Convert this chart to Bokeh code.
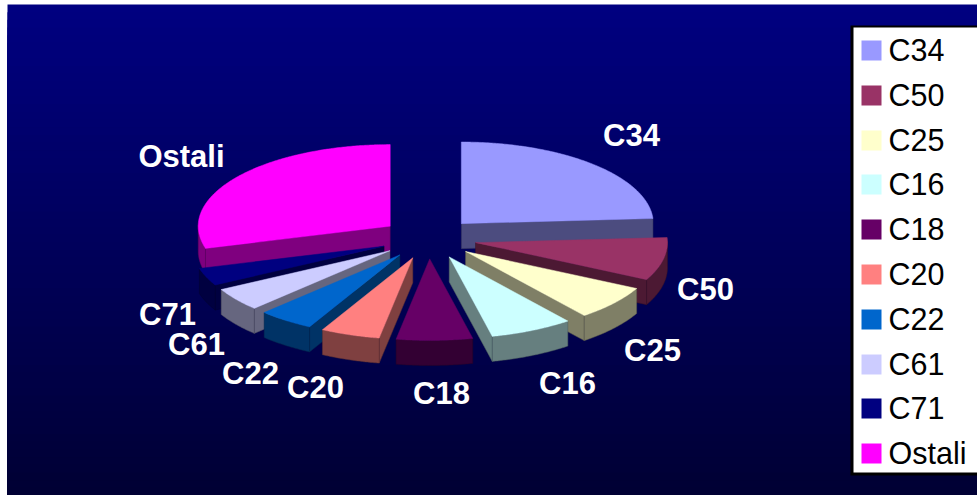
import numpy as np
from bokeh.plotting import figure
from bokeh.models import Range1d
from bokeh.core.properties import value
from bokeh.embed import file_html
from bokeh.resources import INLINE

# ---- data ----
categories = ["C34", "C50", "C25", "C16", "C18", "C20", "C22", "C61", "C71", "Ostali"]
shares = [24.0, 8.5, 6.9, 7.0, 6.4, 5.0, 4.7, 4.6, 3.5, 29.4]
colors = ["#9999ff", "#993366", "#ffffcc", "#ccffff", "#660066",
          "#ff8080", "#0066cc", "#ccccff", "#000080", "#ff00ff"]

# ---- layout ----
CX, CY = 428, 238       # pie centre
R, TILT = 192, 0.425    # radius and vertical squash
EXPLODE = 48            # slice explosion
DEPTH = 25              # thickness
DRAW_ORDER = [0, 9, 1, 8, 2, 7, 3, 6, 4, 5]
LABEL_XY = [(631, 135), (705, 289), (652, 350), (567, 383), (441, 393),
            (315, 387), (250, 373), (196, 344), (167, 314), (181, 156)]
LEGEND_Y = [49, 94, 139, 183, 228, 273, 318, 363, 407, 452]
SWATCH_Y = [50, 95, 140, 184, 229, 274, 319, 364, 408, 453]

p = figure(width=977, height=495, output_backend="svg", toolbar_location=None,
           x_range=Range1d(0, 977), y_range=Range1d(495, 0),
           min_border=0, outline_line_color=None, background_fill_color="#ffffff",
           border_fill_color="#ffffff")
p.axis.visible = False
p.grid.visible = False

# background gradient: each band runs to the bottom, so no seams show
edges = np.linspace(4, 495, 65)
t = np.linspace(0, 1, 64)
bg = ["#%02x%02x%02x" % (0, 0, int(round(128 - (128 - 52) * v))) for v in t]
p.quad(left=7, right=977, top=edges[:-1], bottom=495, fill_color=bg, line_color=None)


def half(c):
    return "#%02x%02x%02x" % tuple(int(c[i:i + 2], 16) // 2 for i in (1, 3, 5))


def darker(c):
    return "#%02x%02x%02x" % tuple(int(c[i:i + 2], 16) * 3 // 8 for i in (1, 3, 5))


spans = np.array(shares) / sum(shares) * 360.0
ends = 90 - np.cumsum(spans)
starts = ends + spans

for i in DRAW_ORDER:
    a0, a1 = np.radians(starts[i]), np.radians(ends[i])
    mid = (a0 + a1) / 2
    ax = CX + EXPLODE * np.cos(mid)
    ay = CY - EXPLODE * TILT * np.sin(mid)
    ang = np.linspace(a0, a1, max(8, int(spans[i] * 2)))
    rx = ax + R * np.cos(ang)
    ry = ay - R * TILT * np.sin(ang)
    side, edge = half(colors[i]), darker(colors[i])

    # radial walls that face the viewer
    if np.cos(a0) < -1e-6:
        p.patch([ax, rx[0], rx[0], ax], [ay, ry[0], ry[0] + DEPTH, ay + DEPTH],
                fill_color=side, line_color=edge, line_width=0.5)
    if np.cos(a1) > 1e-6:
        p.patch([ax, rx[-1], rx[-1], ax], [ay, ry[-1], ry[-1] + DEPTH, ay + DEPTH],
                fill_color=side, line_color=edge, line_width=0.5)
    # outer rim, front half only
    front = np.sin(ang) <= 0.02
    if front.sum() > 1:
        fx, fy = rx[front], ry[front]
        p.patch(np.r_[fx, fx[::-1]], np.r_[fy, fy[::-1] + DEPTH],
                fill_color=side, line_color=edge, line_width=0.5)
    # top face
    p.patch(np.r_[ax, rx], np.r_[ay, ry], fill_color=colors[i],
            line_color=colors[i], line_width=0.5)

# data labels
p.text([q[0] for q in LABEL_XY], [q[1] for q in LABEL_XY], text=categories,
       text_color="#ffffff", text_font=value("Liberation Sans"), text_font_style="bold",
       text_font_size="31px", text_align="center", text_baseline="middle")

# legend box
p.quad(left=850, right=977, top=25, bottom=475, fill_color="#000000", line_color=None)
p.quad(left=853, right=977, top=27, bottom=472, fill_color="#ffffff", line_color=None)
p.quad(left=861, right=881, top=[y - 10 for y in SWATCH_Y], bottom=[y + 10 for y in SWATCH_Y],
       fill_color=colors, line_color=None)
p.text(888, LEGEND_Y, text=categories, text_color="#000000",
       text_font=value("Liberation Sans"), text_font_size="30.5px",
       text_align="left", text_baseline="middle")

open("out.html", "w").write(file_html(p, INLINE))
